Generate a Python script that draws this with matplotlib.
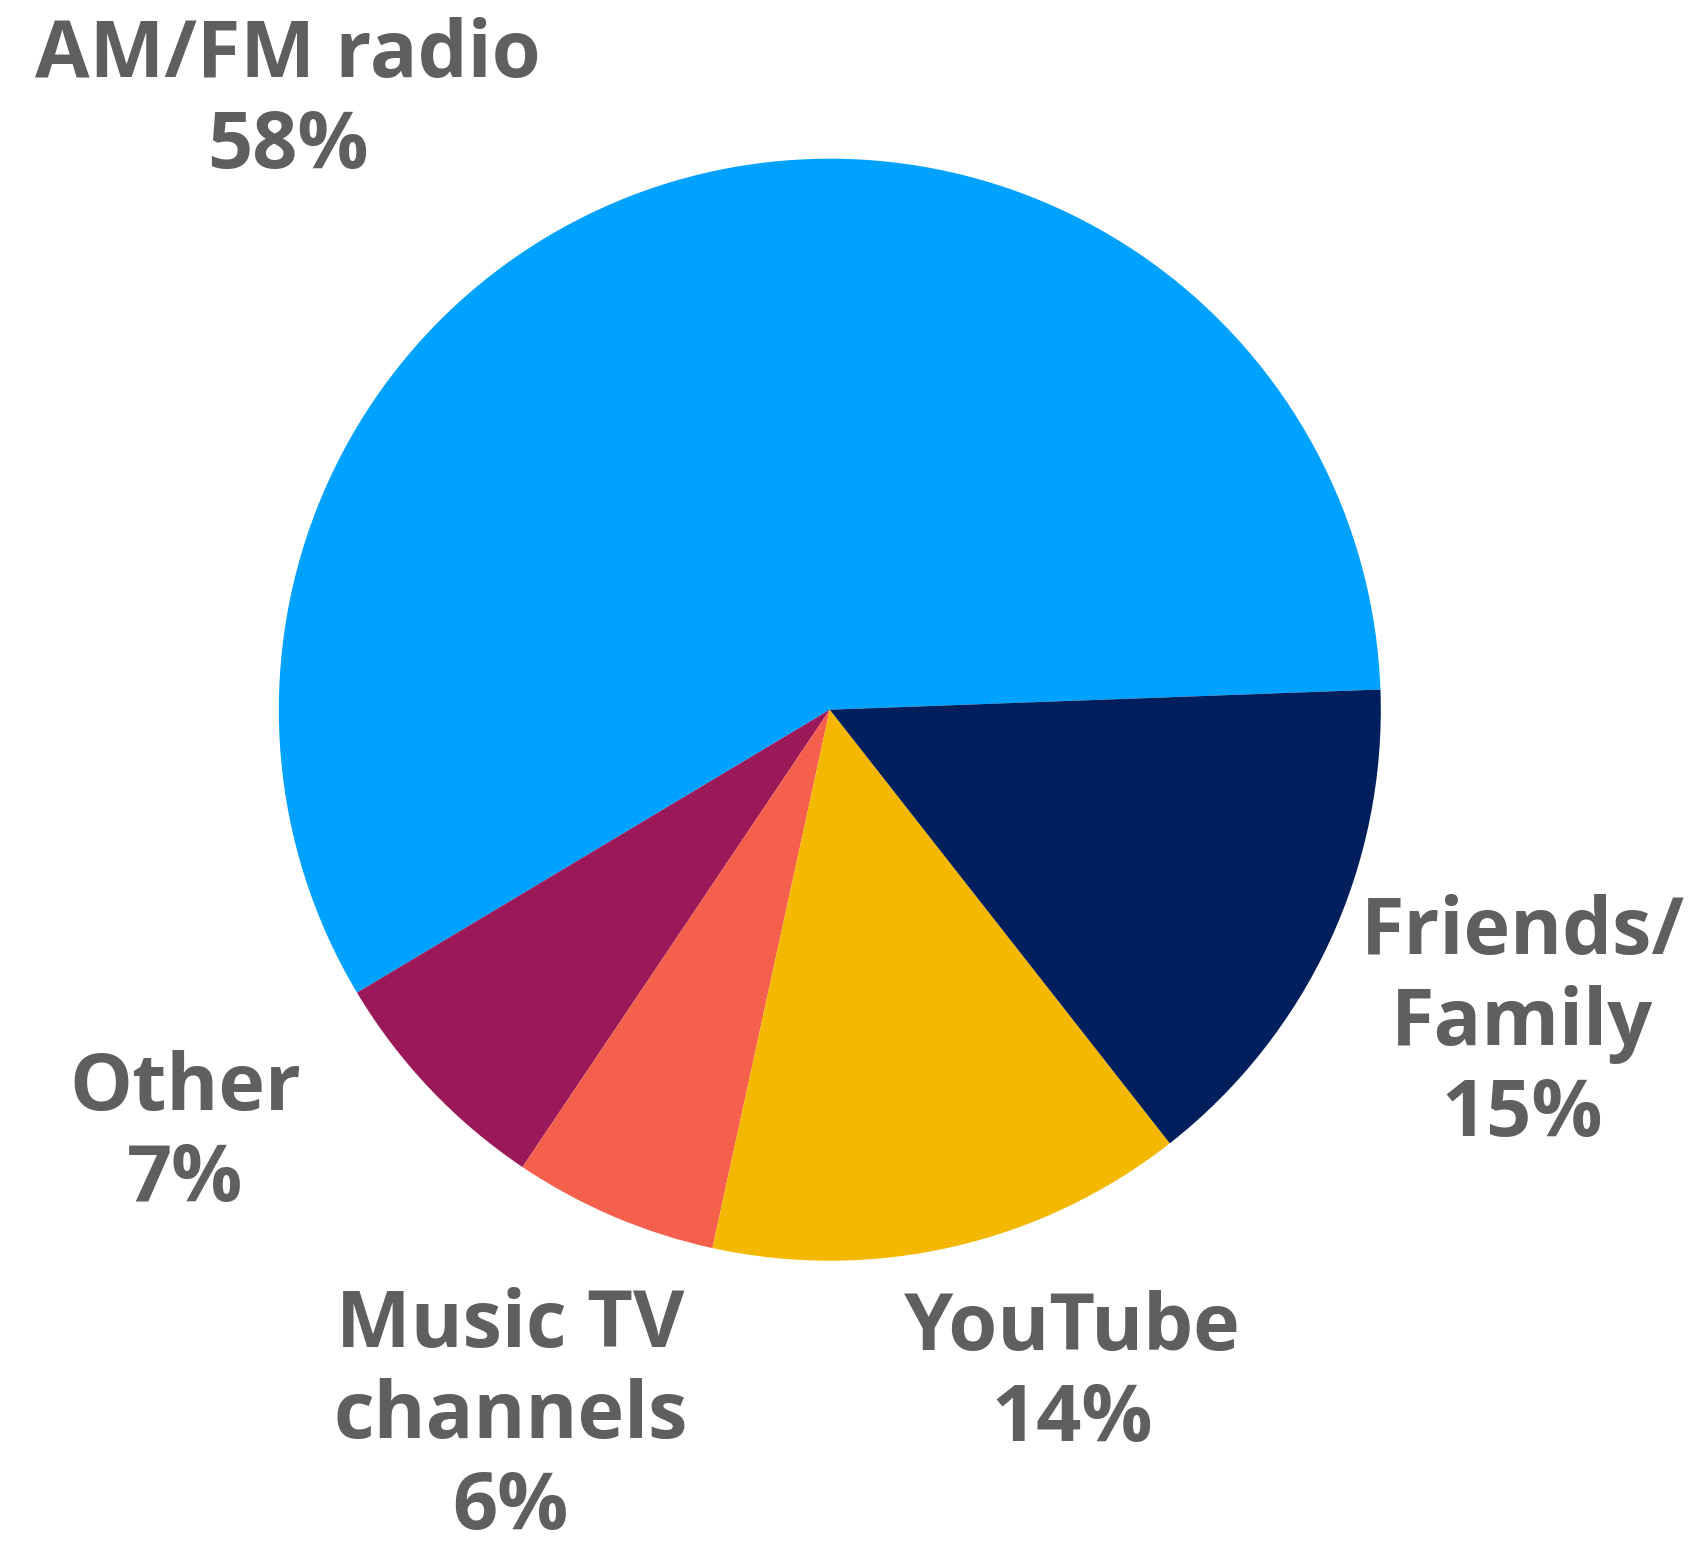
import matplotlib
matplotlib.use("Agg")
import matplotlib.pyplot as plt

labels = ["AM/FM radio", "Other", "Music TV\nchannels", "YouTube", "Friends/\nFamily"]
values = [58, 7, 6, 14, 15]
colors = ["#00A2FF", "#9B1859", "#F5604D", "#F5B800", "#001F5C"]

label_pos = [(-0.983, 1.103), (-1.170, -0.771), (-0.580, -1.285), (0.440, -1.207), (1.257, -0.572)]

fig = plt.figure(figsize=(17.07, 15.5), dpi=100)
ax = fig.add_axes([0, 0, 1, 1])
ax.pie(values, colors=colors, startangle=2.1, counterclock=True, radius=1.0,
       center=(0, 0), wedgeprops=dict(linewidth=0))
ax.set_xlim(-1.506, 1.592)
ax.set_ylim(-1.525, 1.288)
ax.set_aspect('auto')
ax.axis('off')

for lab, val, (x, y) in zip(labels, values, label_pos):
    ax.text(x, y, f"{lab}\n{val}%", ha='center', va='center', multialignment='center',
            fontsize=57, fontweight='bold', color='#5F5F5F', family=['Open Sans', 'DejaVu Sans'],
            linespacing=1.2)

fig.savefig("out.png", dpi=100)
